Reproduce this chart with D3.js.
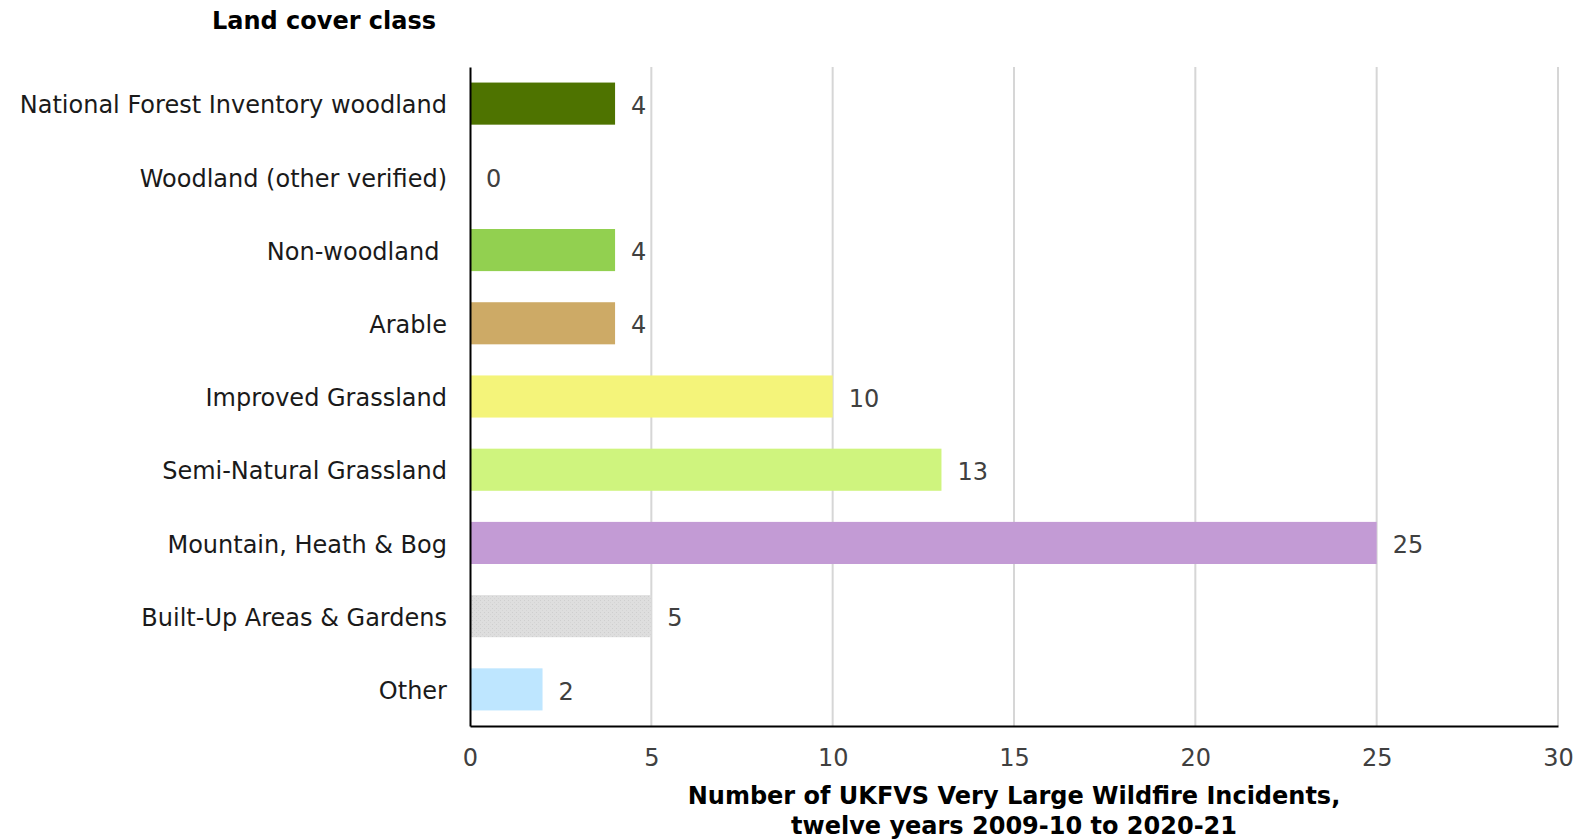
<!DOCTYPE html>
<html>
<head>
<meta charset="utf-8">
<script src="https://cdn.jsdelivr.net/npm/d3@7/dist/d3.min.js"></script>
<style>
  html, body { margin: 0; padding: 0; background: #fff; }
  svg { display: block; font-family: "DejaVu Sans", Verdana, sans-serif; }
  .cat { white-space: pre; }
</style>
</head>
<body>
<svg id="chart" width="1577" height="840"></svg>
<script>
// Land cover classes, top to bottom
const categories = [
  "National Forest Inventory woodland",
  "Woodland (other verified)",
  "Non-woodland ",
  "Arable",
  "Improved Grassland",
  "Semi-Natural Grassland",
  "Mountain, Heath & Bog",
  "Built-Up Areas & Gardens",
  "Other"
];
// Number of very large wildfire incidents per class
const incidents = [4, 0, 4, 4, 10, 13, 25, 5, 2];
const barColors = ["#4e7300", "#ffffff", "#92d050", "#cdaa66", "#f4f47a", "#cff47e", "#c39bd5", "url(#stipple)", "#bee6ff"];
const xTicks = [0, 5, 10, 15, 20, 25, 30];

const svg = d3.select("#chart");
const margin = { left: 470, right: 19, top: 67, bottom: 114 };
const W = 1577, H = 840;
const FS = 24;

const x = d3.scaleLinear().domain([0, 30]).range([margin.left, W - margin.right]);
const y = d3.scaleBand().domain(categories).range([margin.top, H - margin.bottom]).paddingInner(0.425).paddingOuter(0.2125);

// stippled fill for the built-up class
const defs = svg.append("defs");
const pat = defs.append("pattern").attr("id", "stipple").attr("patternUnits", "userSpaceOnUse").attr("width", 4).attr("height", 4);
pat.append("rect").attr("width", 4).attr("height", 4).attr("fill", "#dedede");
pat.append("rect").attr("x", 0).attr("y", 0).attr("width", 1).attr("height", 1).attr("fill", "#cecece");
pat.append("rect").attr("x", 2).attr("y", 2).attr("width", 1).attr("height", 1).attr("fill", "#d4d4d4");

// vertical gridlines
svg.append("g").selectAll("line").data(xTicks.filter(d => d > 0)).join("line")
  .attr("x1", d => x(d)).attr("x2", d => x(d))
  .attr("y1", margin.top).attr("y2", H - margin.bottom)
  .attr("stroke", "#d6d6d6").attr("stroke-width", 2);

// bars
svg.append("g").selectAll("rect").data(categories).join("rect")
  .attr("x", x(0))
  .attr("y", d => y(d))
  .attr("width", (d, i) => x(incidents[i]) - x(0))
  .attr("height", y.bandwidth())
  .attr("fill", (d, i) => barColors[i]);

// value labels
svg.append("g").selectAll("text").data(categories).join("text")
  .attr("x", (d, i) => x(incidents[i]) + 16)
  .attr("y", d => y(d) + y.bandwidth() / 2 + 1.5)
  .attr("dy", "0.36em")
  .attr("font-size", FS)
  .attr("fill", "#404040")
  .text((d, i) => incidents[i]);

// x axis
const xAxis = svg.append("g").attr("transform", `translate(0,${H - margin.bottom})`)
  .call(d3.axisBottom(x).tickValues(xTicks).tickSize(0).tickPadding(23));
xAxis.select(".domain").attr("stroke", "#000").attr("stroke-width", 2);
xAxis.selectAll("text").attr("font-size", FS).attr("fill", "#404040").attr("font-family", "DejaVu Sans, sans-serif");

// y axis
const yAxis = svg.append("g").attr("transform", `translate(${margin.left},0)`)
  .call(d3.axisLeft(y).tickSize(0).tickPadding(23));
yAxis.select(".domain").attr("stroke", "#000").attr("stroke-width", 2);
yAxis.selectAll("text").attr("class", "cat").attr("font-size", FS).attr("fill", "#1a1a1a")
  .attr("font-family", "DejaVu Sans, sans-serif").attr("y", 2);

// titles
svg.append("text").attr("x", 324).attr("y", 29).attr("text-anchor", "middle")
  .attr("font-size", FS).attr("font-weight", "bold").attr("fill", "#000")
  .text("Land cover class");

const xt = svg.append("text").attr("text-anchor", "middle").attr("font-size", FS).attr("font-weight", "bold").attr("fill", "#000");
xt.append("tspan").attr("x", (x(0) + x(30)) / 2).attr("y", 804).text("Number of UKFVS Very Large Wildfire Incidents,");
xt.append("tspan").attr("x", (x(0) + x(30)) / 2).attr("y", 834).text("twelve years 2009-10 to 2020-21");
</script>
</body>
</html>
